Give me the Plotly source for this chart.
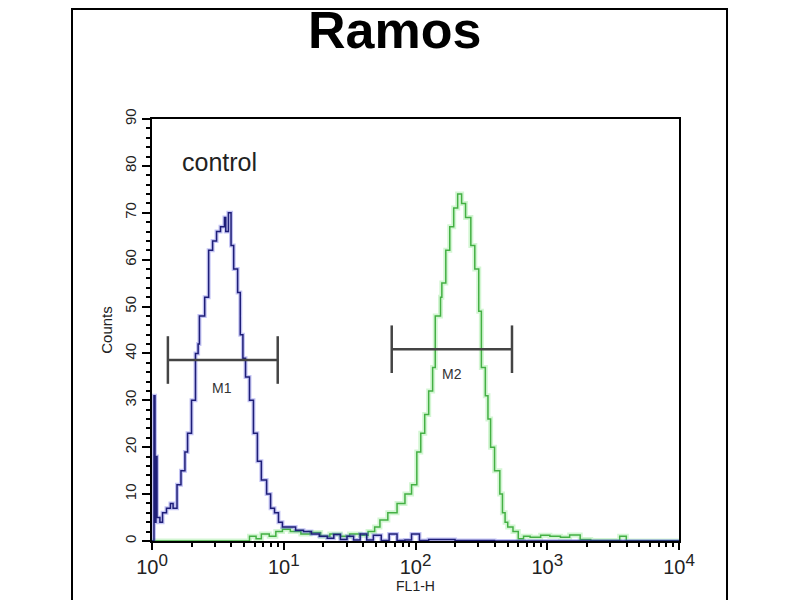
import plotly.graph_objects as go

# histogram channels, given as decades of FL1-H (log10), and counts
blue_dec = [0.00, 0.015, 0.023, 0.030, 0.038, 0.06, 0.08, 0.11, 0.14, 0.16, 0.19, 0.22,
            0.25, 0.27, 0.30, 0.33, 0.35, 0.36, 0.40, 0.43, 0.46, 0.49, 0.52, 0.55, 0.56,
            0.58, 0.60, 0.62, 0.65, 0.67, 0.69, 0.71, 0.74, 0.77, 0.80, 0.83, 0.87, 0.90,
            0.93, 0.96, 0.99, 1.03, 1.09, 1.15, 1.21, 1.27, 1.33, 1.38, 1.43, 1.48, 1.53,
            1.58, 1.63, 1.68, 1.74, 1.80, 1.86, 1.92, 1.97, 2.03, 2.10, 2.30, 2.60, 3.00,
            3.50, 4.00]
blue_cnt = [0, 31, 4, 18, 5, 4, 6, 7, 8, 7, 12, 15,
            19, 23, 30, 40, 42, 48, 52, 62, 64, 66, 67, 69, 66,
            70, 63, 58, 53, 44, 39, 35, 30, 23, 17, 13, 10, 7,
            6, 4, 3, 3, 2.3, 2, 1.5, 1, 0.6, 1.4, 0.3, 1, 0.2,
            1.5, 0.2, 1.2, 0.1, 1.5, 0.1, 0.2, 1.5, 0.1, 0.3, 0.1, 0, 0,
            0, 0]

green_dec = [0.00, 0.70, 0.74, 0.79, 0.83, 0.89, 0.94, 0.99, 1.05, 1.13, 1.20, 1.28,
             1.35, 1.43, 1.50, 1.58, 1.64, 1.69, 1.73, 1.79, 1.86, 1.92, 1.97, 2.01, 2.04,
             2.07, 2.10, 2.13, 2.15, 2.19, 2.20, 2.23, 2.26, 2.29, 2.32, 2.35, 2.38, 2.42,
             2.45, 2.48, 2.50, 2.53, 2.55, 2.57, 2.60, 2.64, 2.66, 2.68, 2.70, 2.74, 2.78,
             2.82, 2.87, 2.95, 3.02, 3.10, 3.17, 3.25, 3.33, 3.52, 3.55, 3.60, 4.00]
green_cnt = [0, 0, 1, 0.5, 1.5, 1, 2, 2.5, 2, 1.5, 1.8, 1,
             1.5, 1, 1.5, 1.2, 2, 3, 4.5, 6, 8, 10, 12, 19, 23,
             27, 32, 37, 48, 52, 55, 62, 67, 71, 74, 72, 69, 63,
             58, 49, 37, 31, 26, 20, 15, 10, 6, 4, 3, 2, 0.5,
             1, 0.8, 1.2, 1, 0.8, 1.3, 0.3, 0.1, 0.1, 1, 0, 0]

# marker gates M1 / M2 (limits in FL1-H, label positions in decades)
gate_names = ["M1", "M2"]
gate_lo = [1.32, 66]
gate_hi = [9.0, 540]
gate_cnt = [38.6, 40.9]
gate_label_dec = [0.53, 2.28]
gate_label_y = [32.6, 35.6]

x_ticks = [1, 10, 100, 1000, 10000]
x_exponents = ["0", "1", "2", "3", "4"]
y_ticks = [0, 10, 20, 30, 40, 50, 60, 70, 80, 90]

blue_x = [10 ** d for d in blue_dec]
green_x = [10 ** d for d in green_dec]
x_tick_text = ["10<sup><span style='font-size:17px'>" + e + "</span></sup>" for e in x_exponents]

fig = go.Figure()

# soft halo under each line (jpeg look), then the line itself
fig.add_trace(go.Scatter(x=green_x, y=green_cnt, mode="lines", line_shape="hv",
                         line=dict(color="rgba(80,220,80,0.25)", width=5), hoverinfo="skip"))
fig.add_trace(go.Scatter(x=green_x, y=green_cnt, mode="lines", line_shape="hv",
                         line=dict(color="#44b044", width=1.5), name="sample"))
fig.add_trace(go.Scatter(x=blue_x, y=blue_cnt, mode="lines", line_shape="hv",
                         line=dict(color="rgba(60,60,220,0.3)", width=4), hoverinfo="skip"))
fig.add_trace(go.Scatter(x=blue_x, y=blue_cnt, mode="lines", line_shape="hv",
                         line=dict(color="#1e1e78", width=1.5), name="control"))

for i in range(len(gate_names)):
    fig.add_trace(go.Scatter(
        x=[gate_lo[i], gate_hi[i]], y=[gate_cnt[i], gate_cnt[i]],
        mode="lines+markers",
        line=dict(color="#444444", width=2.5),
        marker=dict(symbol="line-ns-open", size=34, line=dict(color="#444444", width=2.5)),
        hoverinfo="skip"
    ))
    # on a log axis annotations take the decade (log10) position
    fig.add_annotation(x=gate_label_dec[i], y=gate_label_y[i], text=gate_names[i],
                       xref="x", yref="y", showarrow=False,
                       font=dict(family="Liberation Sans Narrow, Liberation Sans", size=14, color="#333333"))

fig.add_annotation(x=0.21, y=80.8, text="control", xref="x", yref="y", showarrow=False,
                   xanchor="left", yanchor="middle",
                   font=dict(family="Liberation Sans", size=25, color="#222222"))

fig.add_annotation(x=0.461, y=1.2106, text="<b>Ramos</b>", xref="paper", yref="paper",
                   showarrow=False, xanchor="center", yanchor="middle",
                   font=dict(family="Liberation Sans", size=52, color="black"))

# outer frame of the picture
fig.add_shape(type="rect", xref="paper", yref="paper",
              x0=-0.1518, x1=1.0911, y0=-0.3, y1=1.2607,
              line=dict(color="black", width=2))

fig.update_xaxes(
    type="log", range=[0, 4],
    tickvals=x_ticks, ticktext=x_tick_text,
    ticks="outside", ticklen=7, tickwidth=2, tickcolor="black",
    minor=dict(tickvals=[m * 10 ** k for k in range(4) for m in range(2, 10)],
               ticks="outside", ticklen=4, tickwidth=1.5, tickcolor="black"),
    showline=True, linecolor="black", linewidth=2, mirror=True,
    showgrid=False, zeroline=False,
    tickfont=dict(family="Liberation Sans", size=20, color="#222222"),
    title=dict(text="FL1-H", standoff=0,
               font=dict(family="Liberation Sans", size=14, color="#222222"))
)
fig.update_yaxes(
    range=[0, 90],
    tickvals=y_ticks, tickangle=-90,
    ticks="outside", ticklen=8, tickwidth=2, tickcolor="black",
    minor=dict(dtick=2, ticks="outside", ticklen=4, tickwidth=1.5, tickcolor="black"),
    showline=True, linecolor="black", linewidth=2, mirror=True,
    showgrid=False, zeroline=False,
    tickfont=dict(family="Liberation Sans", size=15, color="#222222"),
    title=dict(text="Counts", standoff=6,
               font=dict(family="Liberation Sans", size=15, color="#222222"))
)

# page body adds 8px, so margins are shifted to land the plot box at 152..679 x 119..541
fig.update_layout(
    width=800, height=600,
    margin=dict(l=144, r=129, t=111, b=67),
    paper_bgcolor="white", plot_bgcolor="white",
    showlegend=False
)

fig.write_html("out.html")
